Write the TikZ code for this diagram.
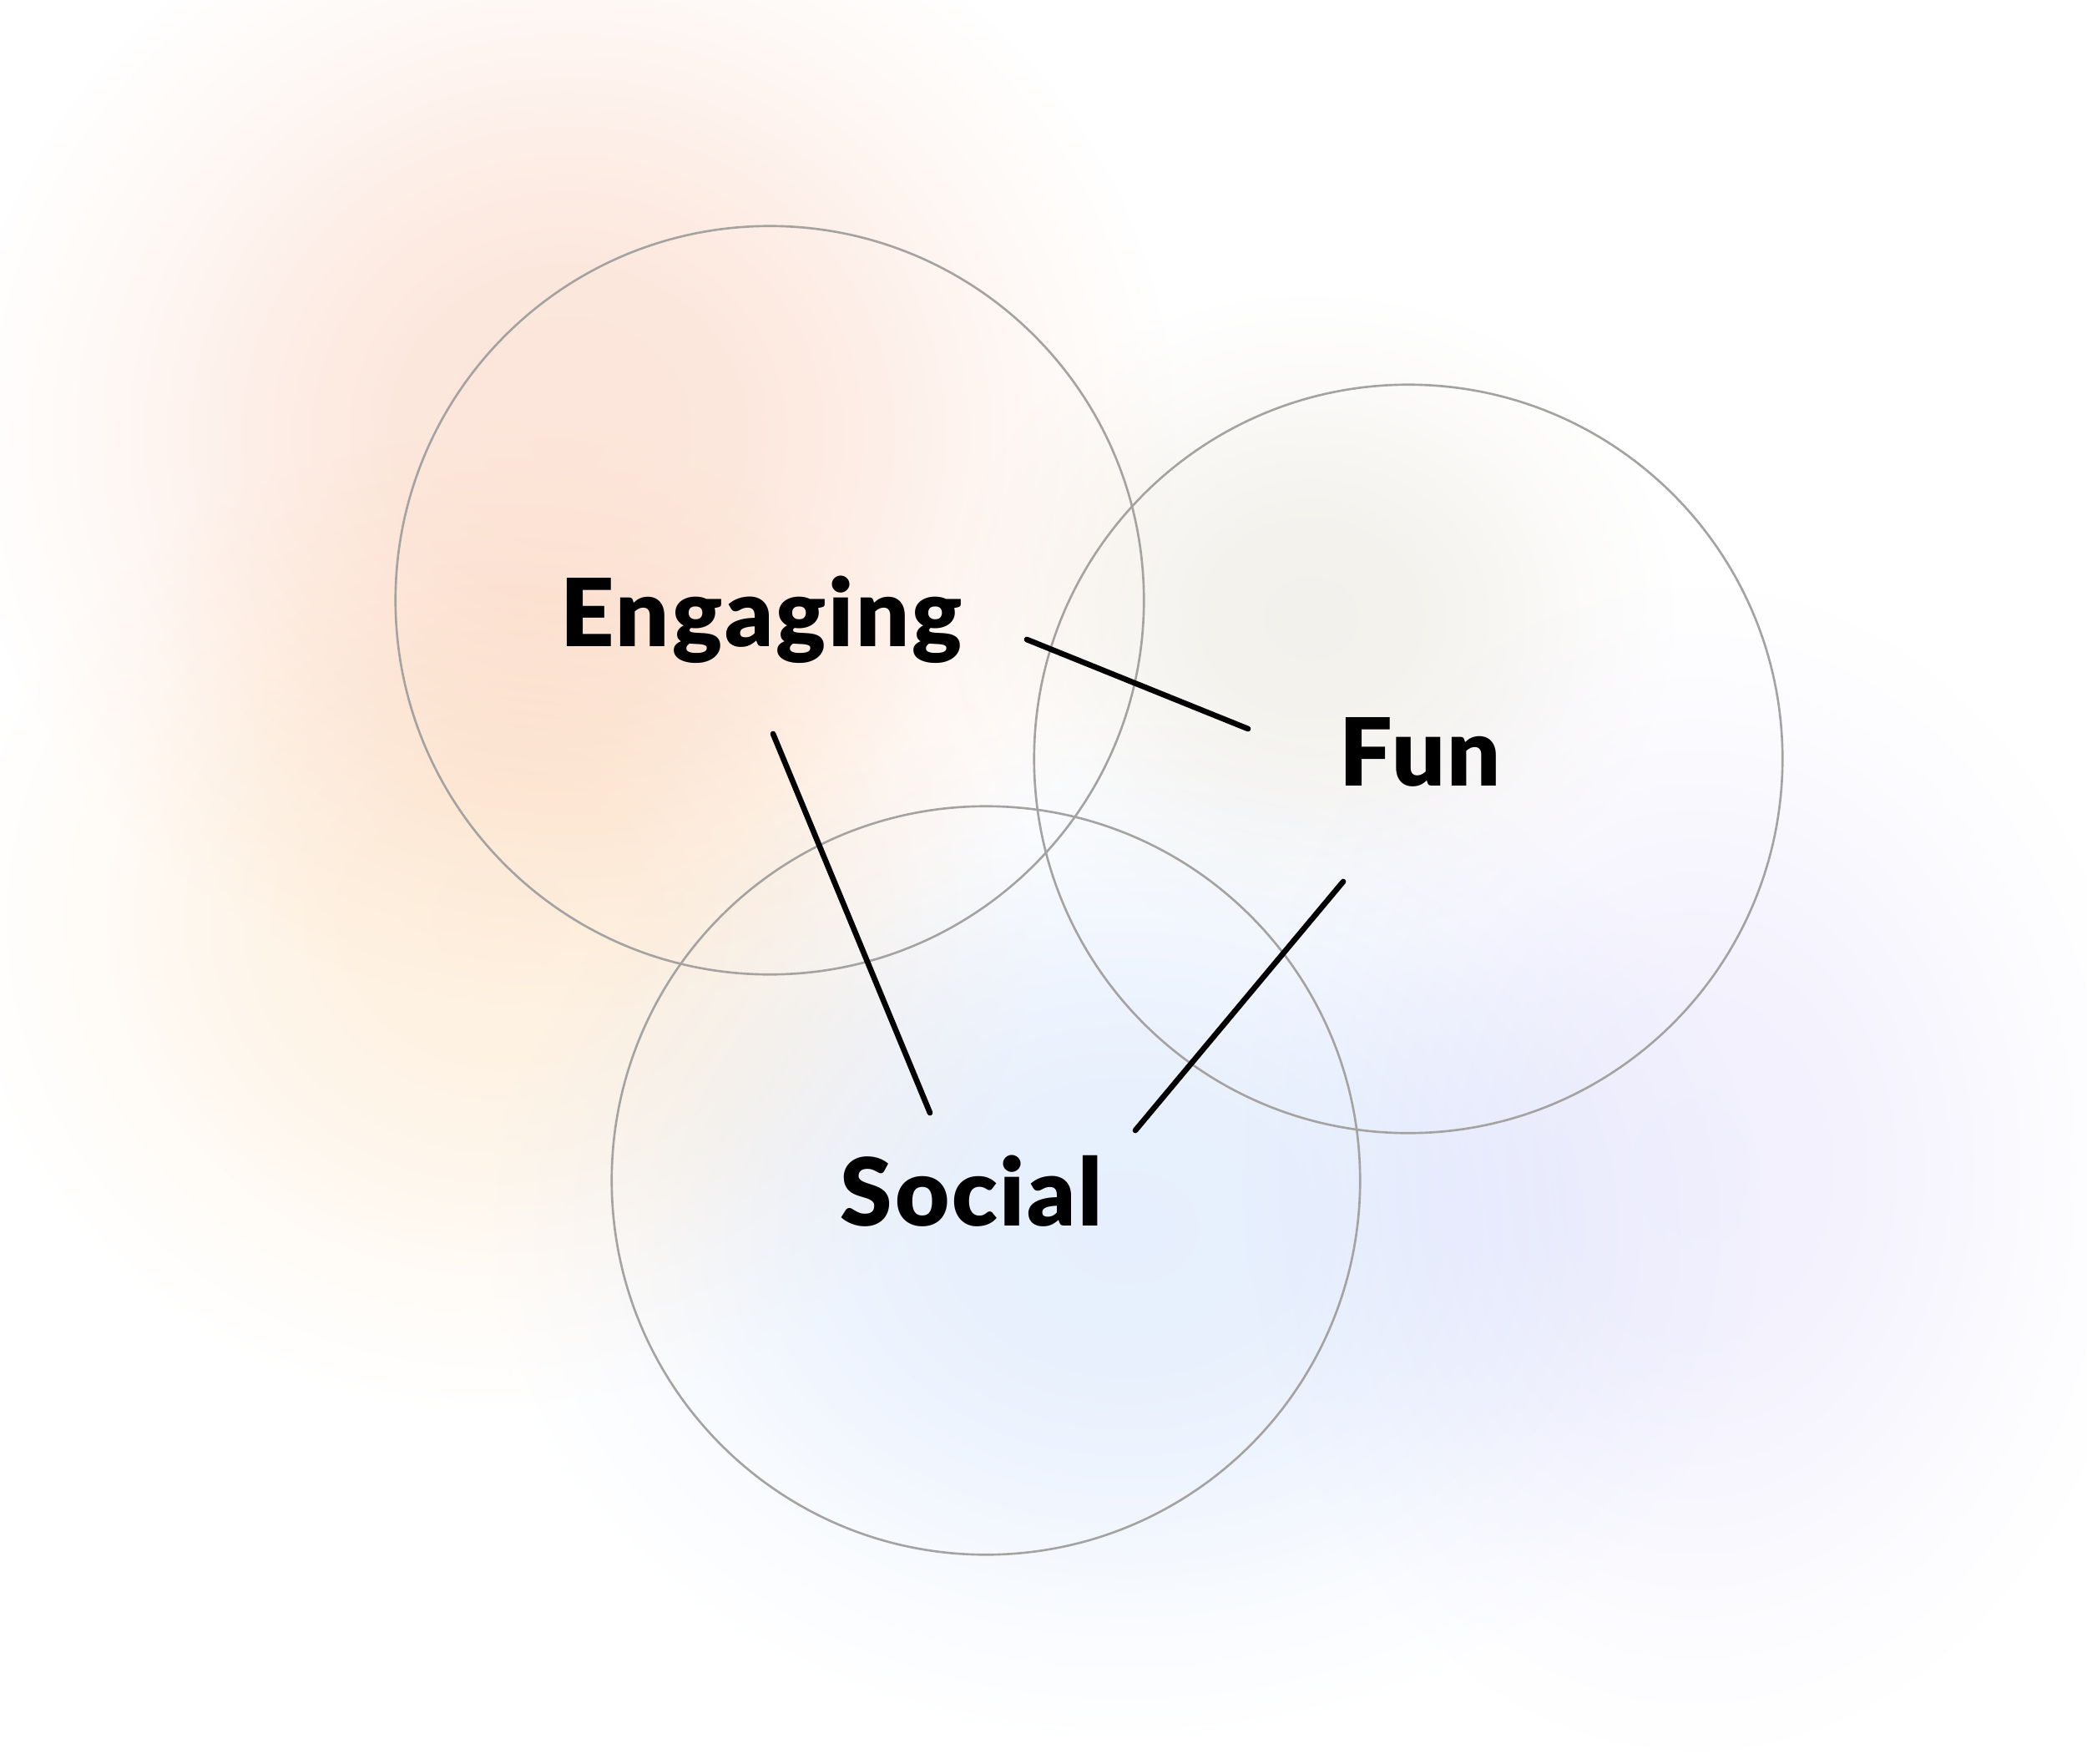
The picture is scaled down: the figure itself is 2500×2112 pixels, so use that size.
\documentclass[tikz,border=0pt]{standalone}
\usepackage{fontspec}
\setmainfont{Lato}
\newfontfamily\wordfont{Lato Black}[LetterSpace=2.5]
\definecolor{ringgray}{HTML}{A5A3A1}
\definecolor{peach}{HTML}{FCE5DA}
\definecolor{apricot}{HTML}{FEF1E1}
\definecolor{sand}{HTML}{F3F1EC}
\definecolor{skyblue}{HTML}{E6EFFD}
\definecolor{lavender}{HTML}{F2F0FD}
\colorlet{blobcolor}{peach}
\pgfdeclareradialshading[blobcolor]{blob}{\pgfpointorigin}{color(0bp)=(blobcolor); color(7bp)=(blobcolor!92!white); color(13bp)=(blobcolor!62!white); color(19bp)=(blobcolor!25!white); color(25bp)=(white); color(50bp)=(white)}

\begin{document}
\begin{tikzpicture}[x=0.01cm,y=-0.01cm,
  glow/.style={shading=blob,blend mode=multiply},
  ring/.style={circle,draw=ringgray,line width=0.75pt,minimum size=8.96cm,inner sep=0pt},
  word/.style={anchor=base,font=\fontsize{32}{38}\selectfont\wordfont},
  link/.style={line width=1.9pt,line cap=round}]
  \useasboundingbox (0,0) rectangle (2500,2112);
  \fill[white] (0,0) rectangle (2500,2112);
  \colorlet{blobcolor}{peach}
  \shade[glow] (680,520) ellipse [x radius=7.4cm,y radius=7cm];
  \colorlet{blobcolor}{apricot}
  \shade[glow] (600,1100) ellipse [x radius=6.6cm,y radius=6cm];
  \colorlet{blobcolor}{sand}
  \shade[glow] (1570,740) ellipse [x radius=4.5cm,y radius=4cm];
  \colorlet{blobcolor}{skyblue}
  \shade[glow] (1350,1470) ellipse [x radius=7.8cm,y radius=6.2cm];
  \colorlet{blobcolor}{lavender}
  \shade[glow] (2030,1400) ellipse [x radius=5.6cm,y radius=7.2cm];
  \node[ring] (ringe) at (922,719) {};
  \node[ring] (ringf) at (1687,909) {};
  \node[ring] (rings) at (1181,1414) {};
  \node[word] (engaging) at (912,774) {Engaging};
  \node[word] (fun) at (1701,941) {Fun};
  \node[word] (social) at (1164,1468) {Social};
  \coordinate (ef1) at (1230,766);
  \coordinate (ef2) at (1495,873);
  \coordinate (es1) at (926,879);
  \coordinate (es2) at (1114,1333);
  \coordinate (fs1) at (1609,1056);
  \coordinate (fs2) at (1360,1354);
  \draw[link] (ef1) -- (ef2);
  \draw[link] (es1) -- (es2);
  \draw[link] (fs1) -- (fs2);
\end{tikzpicture}
\end{document}
